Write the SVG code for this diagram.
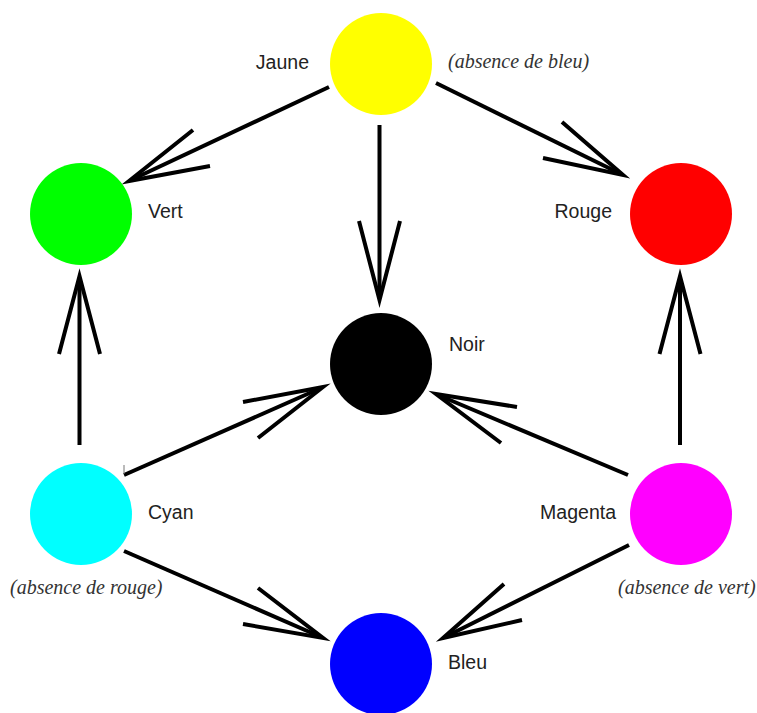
<svg xmlns="http://www.w3.org/2000/svg" width="757" height="713" viewBox="0 0 757 713">
<style>
.bg{fill:#fff}
.lbl{font-family:"Liberation Sans",Arial,sans-serif;font-size:19.5px;fill:#222}
.note{font-family:"Liberation Serif","Times New Roman",serif;font-style:italic;font-size:20px;fill:#333}
.ln{fill:none;stroke:#000;stroke-width:4;stroke-linecap:butt}
.hd{fill:none;stroke:#000;stroke-width:4;stroke-linejoin:miter;stroke-miterlimit:20;stroke-linecap:butt}
</style>
<rect class="bg" x="0" y="0" width="757" height="713"/>
<g id="connectors">
  <!-- Jaune -> Vert -->
  <line class="ln" x1="329" y1="87" x2="131" y2="180"/>
  <polyline class="hd" points="193,130 129,181 210,166"/>
  <!-- Jaune -> Noir -->
  <line class="ln" x1="379.5" y1="125" x2="379.5" y2="298"/>
  <polyline class="hd" points="359,221 379.5,300 400,221"/>
  <!-- Jaune -> Rouge -->
  <line class="ln" x1="436" y1="83" x2="621" y2="174"/>
  <polyline class="hd" points="562,122 623,175 543,158"/>
  <!-- Cyan -> Vert -->
  <line class="ln" x1="79.5" y1="445" x2="79.5" y2="278"/>
  <polyline class="hd" points="59,354 79.5,276 100,354"/>
  <!-- Magenta -> Rouge -->
  <line class="ln" x1="680" y1="445" x2="680" y2="278"/>
  <polyline class="hd" points="659.5,354 680,276 700.5,354"/>
  <!-- Cyan -> Noir -->
  <line class="ln" x1="124" y1="475" x2="321" y2="388"/>
  <polyline class="hd" points="243,402 323,387 258,438"/>
  <line x1="124" y1="465" x2="124" y2="474" stroke="#777" stroke-width="1"/>
  <!-- Magenta -> Noir -->
  <line class="ln" x1="628" y1="475" x2="438" y2="395"/>
  <polyline class="hd" points="517,407 436,394 501,443"/>
  <!-- Cyan -> Bleu -->
  <line class="ln" x1="124" y1="551" x2="321" y2="637"/>
  <polyline class="hd" points="258,588 323,638 243,624"/>
  <!-- Magenta -> Bleu -->
  <line class="ln" x1="629" y1="545" x2="445" y2="637"/>
  <polyline class="hd" points="504,584 443,638 522,620"/>
</g>
<g id="jaune">
  <circle cx="381" cy="64" r="51" fill="#ffff00"/>
  <text class="lbl" x="309" y="69" text-anchor="end">Jaune</text>
  <text class="note" x="448" y="68">(absence de bleu)</text>
</g>
<g id="vert">
  <circle cx="81" cy="214" r="51" fill="#00ff00"/>
  <text class="lbl" x="148" y="218">Vert</text>
</g>
<g id="rouge">
  <circle cx="681" cy="214" r="51" fill="#ff0000"/>
  <text class="lbl" x="612" y="218" text-anchor="end">Rouge</text>
</g>
<g id="noir">
  <circle cx="381" cy="364" r="51" fill="#000000"/>
  <text class="lbl" x="449" y="351">Noir</text>
</g>
<g id="cyan">
  <circle cx="81" cy="514" r="51" fill="#00ffff"/>
  <text class="lbl" x="148" y="519">Cyan</text>
  <text class="note" x="10" y="594">(absence de rouge)</text>
</g>
<g id="magenta">
  <circle cx="681" cy="514" r="51" fill="#ff00ff"/>
  <text class="lbl" x="616" y="519" text-anchor="end">Magenta</text>
  <text class="note" x="618" y="594">(absence de vert)</text>
</g>
<g id="bleu">
  <circle cx="381" cy="664" r="51" fill="#0000ff"/>
  <text class="lbl" x="448" y="669">Bleu</text>
</g>
</svg>
